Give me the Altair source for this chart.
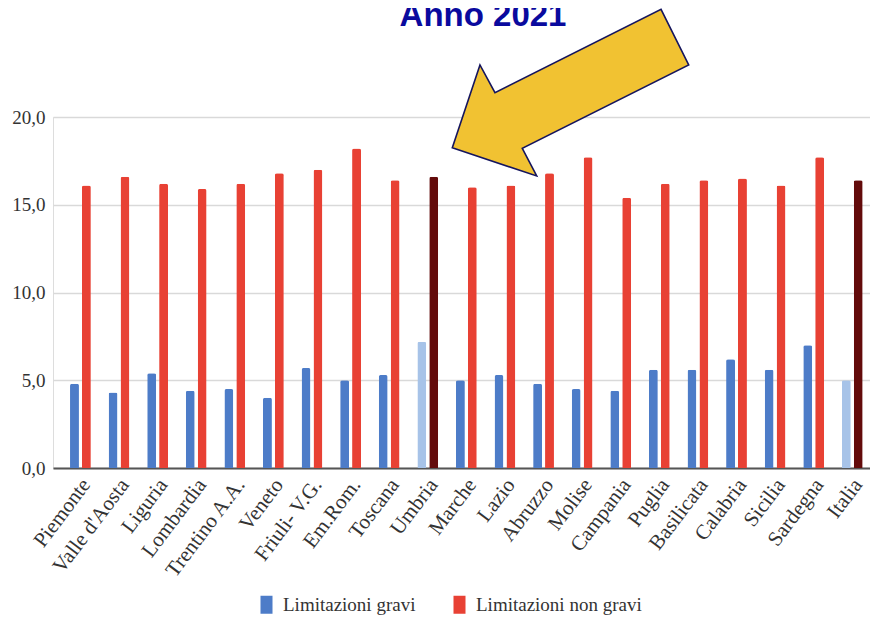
import altair as alt
import pandas as pd

# ---------------- data ----------------
regioni = ["Piemonte", "Valle d'Aosta", "Liguria", "Lombardia", "Trentino A.A.",
           "Veneto", "Friuli- V.G.", "Em.Rom.", "Toscana", "Umbria", "Marche",
           "Lazio", "Abruzzo", "Molise", "Campania", "Puglia", "Basilicata",
           "Calabria", "Sicilia", "Sardegna", "Italia"]
gravi = [4.8, 4.3, 5.4, 4.4, 4.5, 4.0, 5.7, 5.0, 5.3, 7.2, 5.0,
         5.3, 4.8, 4.5, 4.4, 5.6, 5.6, 6.2, 5.6, 7.0, 5.0]
non_gravi = [16.1, 16.6, 16.2, 15.9, 16.2, 16.8, 17.0, 18.2, 16.4, 16.6, 16.0,
             16.1, 16.8, 17.7, 15.4, 16.2, 16.4, 16.5, 16.1, 17.7, 16.4]
evidenziate = ["Umbria", "Italia"]
serie = ["Limitazioni gravi", "Limitazioni non gravi"]
y_ticks = [0, 5, 10, 15, 20]
titolo = "Anno 2021"

rows = []
for r, g, ng in zip(regioni, gravi, non_gravi):
    for s, v in zip(serie, (g, ng)):
        key = s + (" (evid.)" if r in evidenziate else "")
        rows.append({"regione": r, "serie": s, "valore": v, "colore": key})
df = pd.DataFrame(rows)

color_domain = serie + [s + " (evid.)" for s in serie]
color_range = ["#4d7cc8", "#e84134", "#a7c3e8", "#630b0b"]

bars = alt.Chart(df).mark_bar(cornerRadiusTopLeft=2, cornerRadiusTopRight=2).encode(
    x=alt.X("regione:N", sort=regioni,
            scale=alt.Scale(paddingInner=0.46, paddingOuter=0.315, align=0.70),
            axis=alt.Axis(title=None, domain=True, domainColor="#555555", domainWidth=2,
                          ticks=False, grid=False, labelFont="Liberation Serif",
                          labelFontSize=21, labelColor="#333333", labelAngle=307,
                          labelAlign="right", labelBaseline="middle", labelPadding=13,
                          labelOffset=6, labelOverlap=False, labelLimit=0)),
    xOffset=alt.XOffset("serie:N", sort=serie,
                        scale=alt.Scale(domain=serie, paddingInner=0.25, paddingOuter=0)),
    y=alt.Y("valore:Q", scale=alt.Scale(domain=[0, 20], nice=False),
            axis=alt.Axis(title=None, values=y_ticks, domain=False, ticks=False, grid=True,
                          gridColor="#d9d9d9", gridWidth=1.5,
                          labelExpr="replace(format(datum.value, '.1f'), '.', ',')",
                          labelFont="Liberation Serif", labelFontSize=19,
                          labelColor="#333333", labelPadding=8)),
    color=alt.Color("colore:N", scale=alt.Scale(domain=color_domain, range=color_range),
                    legend=alt.Legend(values=serie, title=None, orient="none",
                                      legendX=204, legendY=478, direction="horizontal",
                                      symbolType="M-0.667,-1L0.667,-1L0.667,1L-0.667,1Z",
                                      symbolSize=324, symbolStrokeWidth=0,
                                      labelFont="Liberation Serif", labelFontSize=19,
                                      labelColor="#333333", labelOffset=7, labelLimit=0,
                                      columnPadding=34, padding=0)),
)

arrow_path = ("M-1.0,0.466L-0.766,-0.234L-0.639,0.0L0.766,-0.705L1.0,-0.234"
              "L-0.408,0.471L-0.286,0.705Z")
arrow = alt.Chart(pd.DataFrame({"nota": ["freccia"]})).mark_point(
    shape=arrow_path, size=55885, filled=True, fill="#f1c232", stroke="#15155e",
    strokeWidth=1.6, opacity=1
).encode(x=alt.value(517.5), y=alt.value(-24.35))

title = alt.Chart(pd.DataFrame({"nota": [titolo]})).mark_text(
    font="Liberation Sans", fontSize=33, fontWeight="bold", color="#0a0a9e",
    align="center", baseline="alphabetic"
).encode(text="nota:N", x=alt.value(430), y=alt.value(-91))

chart = alt.layer(bars, arrow, title).properties(
    width=817, height=351,
    autosize=alt.AutoSizeParams(type="none"),
    padding={"left": 45, "top": 109, "right": 0, "bottom": 148},
).configure_view(stroke=None).configure(background="white").configure_legend(
    labelFont="Liberation Serif"
)

chart.save("out.html", embed_options={"renderer": "svg", "actions": False})
